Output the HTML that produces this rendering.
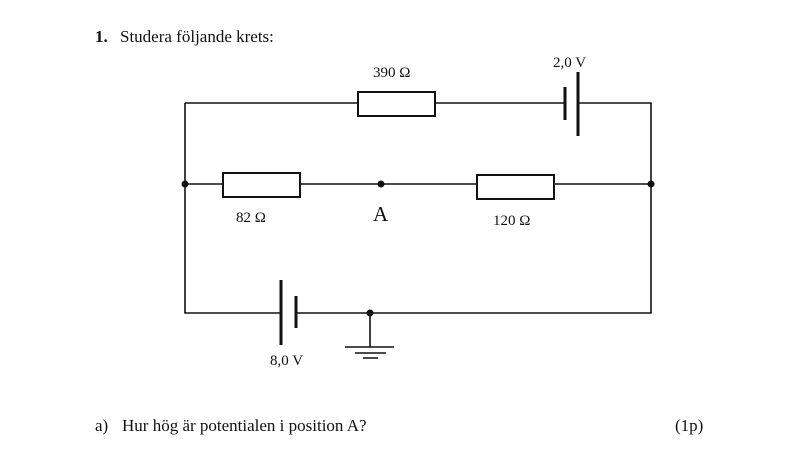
<!DOCTYPE html>
<html><head><meta charset="utf-8"><style>
body{margin:0;background:#fff;width:800px;height:449px;overflow:hidden}
svg{position:absolute;left:0;top:0}
text{font-family:"Liberation Serif",serif;fill:#111}
</style></head><body>
<svg width="800" height="449" viewBox="0 0 800 449">
<g stroke="#111" stroke-width="1.6" fill="none">
<path d="M185 103H358M435 103H565M578 103H651V313H296M281 313H185V103"/>
<path d="M185 184H223M300 184H477M554 184H651"/>
<rect x="358" y="92" width="77" height="24" stroke-width="2"/>
<rect x="223" y="173" width="77" height="24" stroke-width="2"/>
<rect x="477" y="175" width="77" height="24" stroke-width="2"/>
<path d="M370 313V347"/>
<path d="M345 347H394M355 353H386M363 358H378"/>
</g>
<g stroke="#111" stroke-width="3">
<path d="M565 87V120M578 72V136"/>
<path d="M281 280V345M296 296V328"/>
</g>
<g fill="#111">
<circle cx="185" cy="184" r="3.5"/><circle cx="651" cy="184" r="3.5"/>
<circle cx="381" cy="184" r="3.5"/><circle cx="370" cy="313" r="3.5"/>
</g>
<text x="95" y="42" font-size="17" font-weight="bold">1.</text>
<text x="120" y="42" font-size="17">Studera följande krets:</text>
<text x="373" y="77" font-size="15">390 Ω</text>
<text x="553" y="67" font-size="15">2,0 V</text>
<text x="236" y="222" font-size="15">82 Ω</text>
<text x="373" y="221" font-size="21">A</text>
<text x="493" y="225" font-size="15">120 Ω</text>
<text x="270" y="365" font-size="15">8,0 V</text>
<text x="95" y="431" font-size="17">a)</text>
<text x="122" y="431" font-size="17">Hur hög är potentialen i position A?</text>
<text x="675" y="431" font-size="17">(1p)</text>
</svg>
</body></html>
